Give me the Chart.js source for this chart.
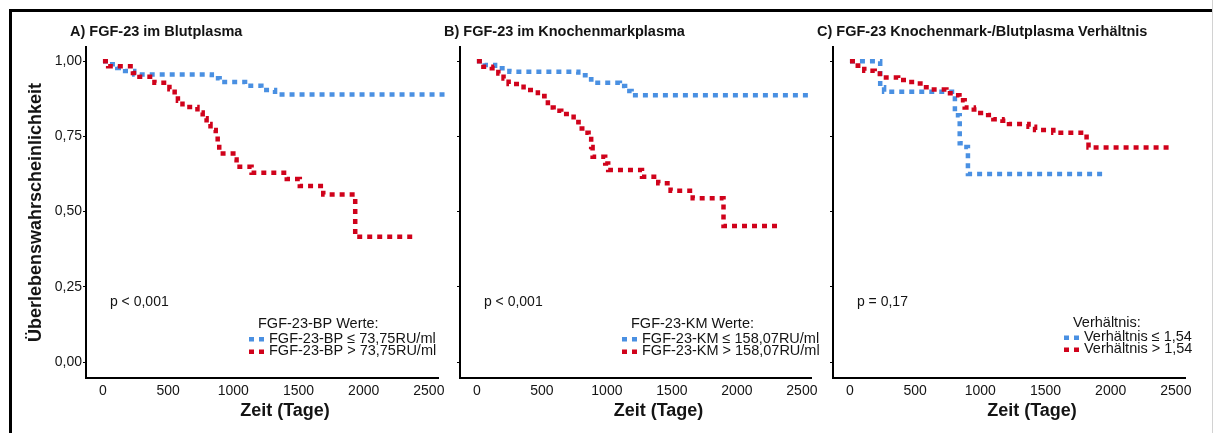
<!DOCTYPE html>
<html lang="de">
<head>
<meta charset="utf-8">
<title>FGF-23 Überlebenskurven</title>
<script src="https://cdn.jsdelivr.net/npm/chart.js@4.4.1/dist/chart.umd.min.js"></script>
<style>
   html, body { margin: 0; padding: 0; background: #fff; }
   #wrap { position: relative; width: 1214px; height: 433px; overflow: hidden; }
   #frame { position: absolute; left: 9px; top: 9px; width: 1201px; height: 440px; border-left: 3px solid #000; border-top: 3px solid #000; }
   #edge { position: absolute; left: 1212px; top: 0; width: 1px; height: 433px; background: #d2d2d2; }
   canvas { position: absolute; top: 0; }
</style>
</head>
<body>
<div id="wrap">
   <div id="frame"></div>
   <div id="edge"></div>
   <canvas id="chartA" width="452" height="433" style="left:0"></canvas>
   <canvas id="chartB" width="386" height="433" style="left:440px"></canvas>
   <canvas id="chartC" width="400" height="433" style="left:812px"></canvas>
</div>
<script>
// Data
// ----------------------------------------------
const xTickValues = [0, 500, 1000, 1500, 2000, 2500];
const xTickLabels = ["0", "500", "1000", "1500", "2000", "2500"];
const yTickValues = [0, 0.25, 0.5, 0.75, 1];
const yTickLabels = ["0,00", "0,25", "0,50", "0,75", "1,00"];

// A) Blutplasma
const aLowDays  = [0, 50, 110, 170, 240, 835, 895, 1090, 1215, 1320, 2620];
const aLowSurv  = [1.0, 0.99, 0.977, 0.967, 0.956, 0.943, 0.931, 0.918, 0.904, 0.889, 0.889];
const aHighDays = [0, 40, 230, 280, 395, 510, 550, 575, 610, 725, 765, 795, 825, 865, 880, 892, 1000, 1025, 1140, 1410, 1510, 1690, 1935, 2400];
const aHighSurv = [1.0, 0.983, 0.961, 0.948, 0.928, 0.907, 0.889, 0.868, 0.848, 0.829, 0.81, 0.791, 0.771, 0.751, 0.726, 0.693, 0.673, 0.649, 0.629, 0.608, 0.585, 0.557, 0.416, 0.416];

// B) Knochenmarkplasma
const bLowDays  = [0, 60, 140, 250, 780, 835, 880, 1100, 1140, 1190, 2550];
const bLowSurv  = [1.0, 0.987, 0.976, 0.965, 0.953, 0.94, 0.928, 0.917, 0.901, 0.887, 0.887];
const bHighDays = [0, 50, 115, 165, 205, 244, 359, 469, 520, 546, 590, 649, 744, 782, 828, 859, 879, 890, 987, 1010, 1270, 1395, 1490, 1660, 1897, 2346];
const bHighSurv = [1.0, 0.981, 0.976, 0.959, 0.942, 0.924, 0.904, 0.884, 0.873, 0.846, 0.835, 0.824, 0.798, 0.776, 0.762, 0.741, 0.715, 0.682, 0.66, 0.638, 0.616, 0.594, 0.569, 0.544, 0.452, 0.452];

// C) Verhältnis
const cLowDays  = [0, 232, 262, 805, 842, 848, 905, 1968];
const cLowSurv  = [1.0, 0.913, 0.898, 0.82, 0.727, 0.715, 0.625, 0.625];
const cHighDays = [0, 60, 110, 190, 230, 370, 440, 495, 560, 610, 740, 800, 840, 880, 950, 1000, 1060, 1100, 1170, 1220, 1370, 1420, 1560, 1815, 1830, 2467];
const cHighSurv = [1.0, 0.985, 0.968, 0.959, 0.946, 0.937, 0.931, 0.926, 0.913, 0.906, 0.893, 0.887, 0.87, 0.846, 0.839, 0.828, 0.821, 0.807, 0.802, 0.791, 0.782, 0.771, 0.762, 0.735, 0.713, 0.713];


// Colors & fonts
// ----------------------------------------------
const blueColor = "rgb(74, 144, 226)";
const redColor  = "rgb(208, 2, 27)";
const textColor = "#141414";
const fontFamily = '"Liberation Sans", Arial, Helvetica, sans-serif';

Chart.defaults.font.family = fontFamily;
Chart.defaults.color = textColor;

const toPoints = (days, surv) => days.map((d, i) => ({ x: d, y: surv[i] }));


// Text drawn inside each panel (title, p value, legend, axis titles)
// ----------------------------------------------
const panelText = {
   id: "panelText",
   afterDraw(chart, args, o) {
      const { ctx, chartArea: area, scales } = chart;
      const zeroX = scales.x.getPixelForValue(0);
      const legendX = area.left + o.legendOffset;

      ctx.save();
      ctx.fillStyle = textColor;
      ctx.textBaseline = "middle";
      ctx.textAlign = "left";

      ctx.font = `bold 14.5px ${fontFamily}`;
      ctx.fillText(o.title, area.left - 16, 32);

      ctx.font = `14px ${fontFamily}`;
      ctx.fillText(o.pText, zeroX + 7, 302);

      // legend
      ctx.font = `14.5px ${fontFamily}`;
      ctx.fillText(o.legendTitle, legendX - 11, o.legendY[0]);
      chart.data.datasets.forEach((ds, i) => {
         const y = o.legendY[i + 1];
         ctx.fillStyle = ds.borderColor;
         ctx.fillRect(legendX - 20, y - 1.5, 5, 4.5);
         ctx.fillRect(legendX - 10, y - 1.5, 5, 4.5);
         ctx.fillStyle = textColor;
         ctx.fillText(ds.label, legendX, y);
      });

      ctx.font = `bold 18px ${fontFamily}`;
      ctx.textAlign = "center";
      ctx.fillText("Zeit (Tage)", (area.left + area.right) / 2 + 23, 411);

      if (o.yTitle) {
         ctx.translate(36, (area.top + area.bottom) / 2);
         ctx.rotate(-Math.PI / 2);
         ctx.fillText(o.yTitle, 0, 0);
      }
      ctx.restore();
   }
};


// One Kaplan-Meier panel
// ----------------------------------------------
const buildPanel = (id, p) => new Chart(document.getElementById(id), {
   type: "line",
   plugins: [panelText],
   data: {
      datasets: [
         {
            label: p.labels[0],
            data: toPoints(p.lowDays, p.lowSurv),
            borderColor: blueColor,
            order: 1
         },
         {
            label: p.labels[1],
            data: toPoints(p.highDays, p.highSurv),
            borderColor: redColor,
            order: 0
         }
      ]
   },
   options: {
      responsive: false,
      animation: false,
      layout: { padding: { left: 0, top: 47, right: p.padRight, bottom: 0 } },
      plugins: {
         legend: { display: false },
         tooltip: { enabled: false },
         panelText: {
            title: p.title,
            pText: p.pText,
            legendTitle: p.legendTitle,
            legendOffset: p.legendOffset,
            legendY: p.legendY,
            yTitle: p.yTitle
         }
      },
      elements: {
         point: { radius: 0, hoverRadius: 0 },
         line: {
            borderWidth: 4.5,
            borderDash: [5, 5],
            borderCapStyle: "butt",
            stepped: true,
            fill: false
         }
      },
      datasets: { line: { clip: false } },
      scales: {
         x: {
            type: "linear",
            min: -130,
            max: 2570,
            afterBuildTicks: s => { s.ticks = xTickValues.map(v => ({ value: v })); },
            afterFit: s => { s.height = 55; },
            grid: { display: false, drawTicks: false },
            border: { display: true, color: "#000", width: 2 },
            ticks: {
               autoSkip: false,
               maxRotation: 0,
               padding: 5,
               color: textColor,
               font: { size: 14 },
               callback: (v, i) => xTickLabels[i]
            }
         },
         y: {
            type: "linear",
            min: -0.053,
            max: 1.047,
            afterBuildTicks: s => { s.ticks = yTickValues.map(v => ({ value: v })); },
            afterFit: s => { s.width = p.yWidth; },
            grid: { display: true, drawOnChartArea: false, drawTicks: true, tickLength: 3, color: "#000", lineWidth: 1 },
            border: { display: true, color: "#000", width: 2 },
            ticks: {
               display: p.showYLabels,
               padding: 1,
               color: textColor,
               font: { size: 14 },
               callback: (v, i) => yTickLabels[i]
            }
         }
      }
   }
});


document.addEventListener("DOMContentLoaded", () => {

   buildPanel("chartA", {
      title: "A) FGF-23 im Blutplasma",
      pText: "p < 0,001",
      legendTitle: "FGF-23-BP Werte:",
      labels: ["FGF-23-BP ≤ 73,75RU/ml", "FGF-23-BP > 73,75RU/ml"],
      lowDays: aLowDays, lowSurv: aLowSurv, highDays: aHighDays, highSurv: aHighSurv,
      yTitle: "Überlebenswahrscheinlichkeit",
      showYLabels: true, yWidth: 86, padRight: 14,
      legendOffset: 183, legendY: [324, 338.5, 351]
   });

   buildPanel("chartB", {
      title: "B) FGF-23 im Knochenmarkplasma",
      pText: "p < 0,001",
      legendTitle: "FGF-23-KM Werte:",
      labels: ["FGF-23-KM ≤ 158,07RU/ml", "FGF-23-KM > 158,07RU/ml"],
      lowDays: bLowDays, lowSurv: bLowSurv, highDays: bHighDays, highSurv: bHighSurv,
      yTitle: null,
      showYLabels: false, yWidth: 20, padRight: 15,
      legendOffset: 182, legendY: [324, 338.5, 351]
   });

   buildPanel("chartC", {
      title: "C) FGF-23 Knochenmark-/Blutplasma Verhältnis",
      pText: "p = 0,17",
      legendTitle: "Verhältnis:",
      labels: ["Verhältnis ≤ 1,54", "Verhältnis > 1,54"],
      lowDays: cLowDays, lowSurv: cLowSurv, highDays: cHighDays, highSurv: cHighSurv,
      yTitle: null,
      showYLabels: false, yWidth: 21, padRight: 27,
      legendOffset: 251, legendY: [323, 337, 349]
   });

});
</script>
</body>
</html>
